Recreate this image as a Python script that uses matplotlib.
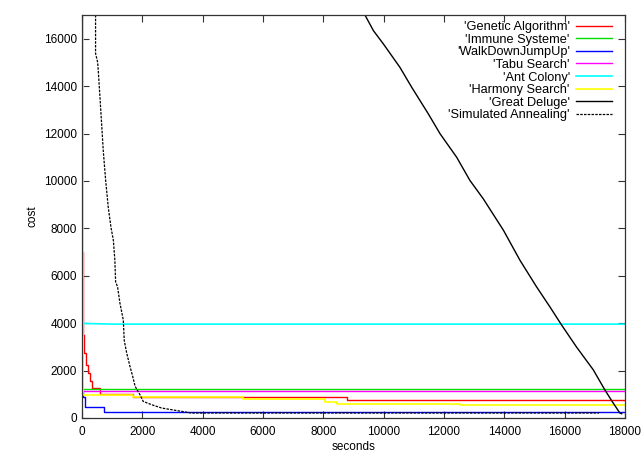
# Cost vs. time for several metaheuristics, gnuplot-like look

import matplotlib
matplotlib.use('Agg')
import matplotlib.pyplot as plt

plt.rcParams['font.family'] = ['Liberation Sans', 'DejaVu Sans']

# (seconds, cost)
ga_t = [0, 20, 40, 75, 130, 210, 265, 320, 600, 1700, 8770, 14020, 18000]
ga_c = [7000, 4200, 3500, 2750, 2250, 1900, 1550, 1270, 1015, 888, 760, 740, 740]

immune_t = [0, 0, 18000]
immune_c = [17000, 1226, 1226]

walk_t = [0, 40, 100, 650, 740, 18000]
walk_c = [1100, 888, 465, 465, 260, 254]

tabu_t = [0, 18000]
tabu_c = [1150, 1150]

ant_t = [0, 1000, 18000]
ant_c = [3990, 3960, 3960]

harmony_t = [0, 30, 1700, 5340, 8060, 8450, 12530, 18000]
harmony_c = [17000, 956, 888, 803, 677, 605, 560, 560]

deluge_t = [9380, 9660, 9990, 10540, 10930, 11480, 11870, 12420, 12860,
            13300, 13970, 14520, 15070, 15510, 15900, 16390, 16950, 17330,
            17610, 17830, 17890]
deluge_c = [17000, 16340, 15780, 14790, 13950, 12830, 11990, 11000, 10020,
            9250, 7920, 6650, 5530, 4690, 3920, 3000, 2030, 1190,
            630, 210, 180]

sa_t = [450, 450, 520, 540, 630, 705, 785, 870, 960, 1040, 1090, 1115, 1180,
        1260, 1370, 1400, 1480, 1590, 1680, 1760, 1920, 2030, 2310, 2640,
        2970, 3300, 3630, 17140]
sa_c = [17000, 15380, 15000, 14650, 12840, 11280, 10020, 8900, 8050, 7500,
        6650, 5740, 5530, 4830, 4130, 3280, 2750, 2180, 1760, 1340, 985,
        700, 560, 420, 350, 280, 210, 211]

fig = plt.figure(figsize=(6.42, 4.54), dpi=100)
ax = fig.add_axes([0.1277, 0.0793, 0.8458, 0.8877])

ax.plot(ga_t, ga_c, color='#ff0000', lw=1, drawstyle='steps-post',
        label="'Genetic Algorithm'")
ax.plot(immune_t, immune_c, color='#00dd00', lw=1, label="'Immune Systeme'")
ax.plot(walk_t, walk_c, color='#0000ff', lw=1, drawstyle='steps-post',
        label="'WalkDownJumpUp'")
ax.plot(tabu_t, tabu_c, color='#ff00ff', lw=1, label="'Tabu Search'")
ax.plot(ant_t, ant_c, color='#00ffff', lw=1.2, label="'Ant Colony'")
ax.plot(harmony_t, harmony_c, color='#ffff00', lw=1.2, drawstyle='steps-post',
        label="'Harmony Search'")
ax.plot(deluge_t, deluge_c, color='black', lw=1, label="'Great Deluge'")
ax.plot(sa_t, sa_c, color='black', lw=0.9, dashes=(2, 1),
        label="'Simulated Annealing'")

ax.set_xlim(0, 18000)
ax.set_ylim(0, 17000)
ax.set_xticks(range(0, 18001, 2000))
ax.set_yticks(range(0, 16001, 2000))
ax.tick_params(direction='in', length=5, width=0.8, top=True, right=True,
               labelsize=8.5, color='#333333')
ax.tick_params(axis='x', pad=6)
for s in ax.spines.values():
    s.set_color('#333333')
    s.set_linewidth(0.9)

ax.set_xlabel('seconds', fontsize=8.5, labelpad=2)
ax.set_ylabel('cost', fontsize=8.5, labelpad=4)

ax.legend(loc='upper right', bbox_to_anchor=(0.976, 0.985), frameon=False,
          markerfirst=False, fontsize=9.2, handlelength=2.8,
          handletextpad=0.5, labelspacing=0.05, borderaxespad=0,
          borderpad=0)

fig.savefig('out.png', dpi=100)
